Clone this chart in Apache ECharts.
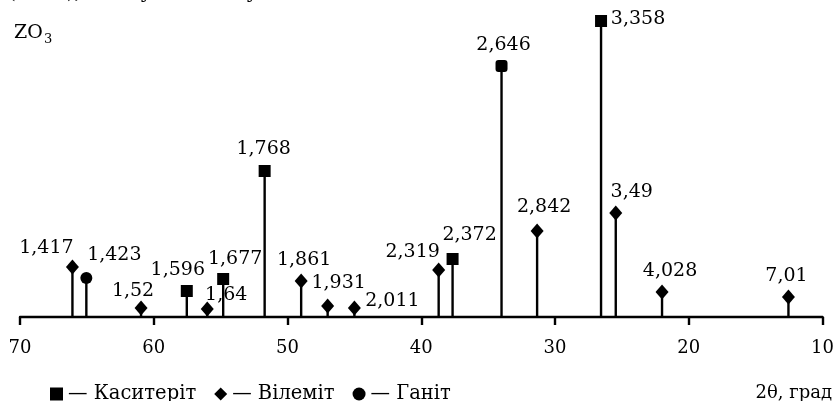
<!DOCTYPE html>
<html>
<head>
<meta charset="utf-8">
<script src="https://cdn.jsdelivr.net/npm/echarts@6/dist/echarts.min.js"></script>
<style>
html,body{margin:0;padding:0;background:#fff;}
#chart{width:837px;height:401px;}
</style>
</head>
<body>
<div id="chart"></div>
<script>
// ---- data ----
const mineralNames = ['Каситеріт', 'Вілеміт', 'Ганіт'];
const xTicks = [70, 60, 50, 40, 30, 20, 10];

const cassTheta = [57.53, 54.81, 51.71, 37.66, 34.0, 26.56];
const cassI     = [26, 38, 146, 58, 251, 296];
const cassD     = ['1,596', '1,677', '1,768', '2,372', '2,646', '3,358'];

const willTheta = [66.08, 60.95, 56.0, 48.98, 47.0, 45.0, 38.7, 31.34, 25.46, 22.0, 12.55];
const willI     = [50, 9, 8, 36, 11, 9, 47, 86, 104, 25, 20];
const willD     = ['1,417', '1,52', '1,64', '1,861', '1,931', '2,011', '2,319', '2,842', '3,49', '4,028', '7,01'];

const gahnTheta = [65.04];
const gahnI     = [39];
const gahnD     = ['1,423'];

// ---- label placement (style, not data) ----
const labelOffset = {
  '1,417': [-26, -19], '1,423': [28, -23], '1,52': [-8, -17], '1,596': [-9, -21],
  '1,64': [19, -14], '1,677': [12, -20], '1,768': [-1, -22], '1,861': [3, -21],
  '1,931': [11, -23], '2,011': [38, -7], '2,319': [-26, -18], '2,372': [17, -24],
  '2,646': [2, -21], '2,842': [7, -24], '3,358': [37, -2], '3,49': [16, -21],
  '4,028': [8, -21], '7,01': [-2, -21]
};
const specialSymbol = { '2,646': 'roundRect' };

const FONT = 'DejaVu Serif';
const INK = '#000';

function build(theta, inten, dlab) {
  return theta.map((t, i) => {
    const item = {
      value: [t, inten[i]],
      name: dlab[i],
      label: { offset: labelOffset[dlab[i]] || [0, -20] }
    };
    if (specialSymbol[dlab[i]]) item.symbol = specialSymbol[dlab[i]];
    return item;
  });
}

const stems = []
  .concat(cassTheta.map((t, i) => [t, cassI[i]]))
  .concat(willTheta.map((t, i) => [t, willI[i]]))
  .concat(gahnTheta.map((t, i) => [t, gahnI[i]]));

const labelStyle = {
  show: true,
  position: 'inside',
  formatter: p => p.name,
  color: INK,
  fontFamily: FONT,
  fontSize: 19
};

const chart = echarts.init(document.getElementById('chart'), null, { renderer: 'canvas' });
chart.setOption({
  animation: false,
  backgroundColor: '#fff',
  grid: { left: 20, right: 10, top: 17, bottom: 84 },
  xAxis: {
    type: 'value',
    inverse: true,
    min: 10, max: 70, interval: 10,
    axisLine: { show: true, lineStyle: { color: INK, width: 2.4 } },
    axisTick: { show: true, length: 8, lineStyle: { color: INK, width: 2.4 } },
    axisLabel: { color: INK, fontFamily: FONT, fontSize: 18, margin: 22,
      formatter: v => xTicks.includes(v) ? String(v) : '' },
    splitLine: { show: false }
  },
  yAxis: {
    type: 'value', min: 0, max: 300, show: false
  },
  legend: {
    left: 45, top: 379,
    itemWidth: 13, itemHeight: 13, itemGap: 18,
    data: mineralNames,
    formatter: n => '— ' + n,
    textStyle: { color: INK, fontFamily: FONT, fontSize: 19.5 },
    selectedMode: false
  },
  graphic: [
    { type: 'text', left: 14, top: 24,
      style: { text: 'ZO', font: '19px "DejaVu Serif"', fill: INK } },
    { type: 'text', left: 44, top: 33,
      style: { text: '3', font: '13px "DejaVu Serif"', fill: INK } },
    { type: 'text', right: 5, top: 384,
      style: { text: '2θ, град', font: '18px "DejaVu Serif"', fill: INK } },
    { type: 'text', left: 8, top: -17,
      style: { text: '(SnO₂), ганіту і вілеміту.', font: '20px "DejaVu Serif"', fill: INK } }
  ],
  series: [
    {
      type: 'custom',
      name: 'stems',
      silent: true,
      data: stems,
      renderItem: (params, api) => {
        const top = api.coord([api.value(0), api.value(1)]);
        const bot = api.coord([api.value(0), 0]);
        return {
          type: 'line',
          shape: { x1: bot[0], y1: bot[1], x2: top[0], y2: top[1] },
          style: { stroke: INK, lineWidth: 2.4 }
        };
      },
      z: 1
    },
    {
      type: 'scatter', name: mineralNames[0], symbol: 'rect', symbolSize: 12,
      itemStyle: { color: INK, opacity: 1 }, label: labelStyle,
      data: build(cassTheta, cassI, cassD), z: 3
    },
    {
      type: 'scatter', name: mineralNames[1], symbol: 'diamond', symbolSize: [13, 15],
      itemStyle: { color: INK, opacity: 1 }, label: labelStyle,
      data: build(willTheta, willI, willD), z: 3
    },
    {
      type: 'scatter', name: mineralNames[2], symbol: 'circle', symbolSize: 12,
      itemStyle: { color: INK, opacity: 1 }, label: labelStyle,
      data: build(gahnTheta, gahnI, gahnD), z: 3
    }
  ]
});
</script>
</body>
</html>
